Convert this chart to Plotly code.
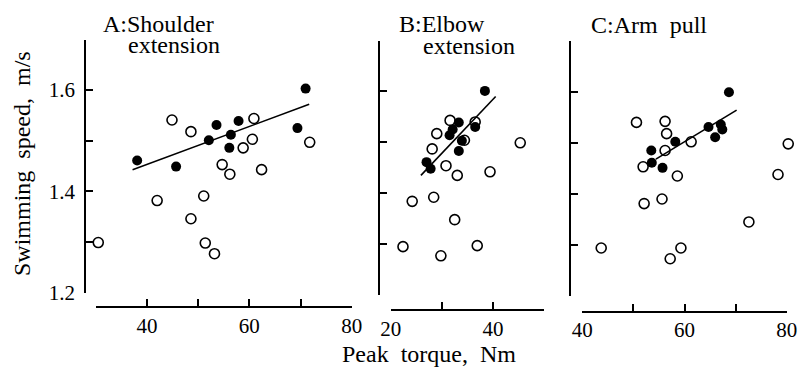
import plotly.graph_objects as go

W, H = 801, 376

# ---------------- data ----------------
# Panel A: Shoulder extension
a_fill_x = [38.1, 45.7, 52.1, 53.6, 57.9, 56.4, 56.1, 69.4, 71.0]
a_fill_y = [1.461, 1.449, 1.501, 1.531, 1.539, 1.512, 1.486, 1.525, 1.603]
a_open_x = [44.9, 48.6, 60.9, 60.6, 58.8, 54.7, 56.2, 62.4, 71.8, 42.0, 51.1, 48.6, 51.4, 53.2, 30.5]
a_open_y = [1.541, 1.518, 1.544, 1.503, 1.486, 1.453, 1.434, 1.443, 1.497, 1.382, 1.391, 1.346, 1.298, 1.277, 1.299]
a_line_x = [37.2, 71.7]
a_line_y = [1.443, 1.572]

# Panel B: Elbow extension
b_fill_x = [38.4, 33.3, 32.1, 31.5, 33.9, 33.3, 36.5, 27.0, 27.8]
b_fill_y = [1.601, 1.539, 1.525, 1.514, 1.503, 1.483, 1.530, 1.461, 1.448]
b_open_x = [31.6, 36.5, 29.0, 28.1, 34.4, 30.8, 33.0, 39.4, 45.3, 24.2, 28.4, 32.5, 22.4, 29.8, 36.9]
b_open_y = [1.543, 1.540, 1.517, 1.487, 1.504, 1.454, 1.435, 1.442, 1.499, 1.384, 1.392, 1.348, 1.295, 1.277, 1.297]
b_line_x = [25.9, 40.5]
b_line_y = [1.435, 1.590]

# Panel C: Arm pull
c_fill_x = [68.7, 67.1, 67.4, 64.7, 66.0, 58.2, 53.5, 53.6, 55.7]
c_fill_y = [1.599, 1.536, 1.526, 1.531, 1.511, 1.502, 1.485, 1.461, 1.451]
c_open_x = [50.6, 56.2, 56.5, 56.2, 61.3, 51.9, 58.6, 80.3, 78.3, 52.1, 55.6, 72.6, 43.7, 59.3, 57.2]
c_open_y = [1.540, 1.542, 1.518, 1.485, 1.502, 1.453, 1.435, 1.498, 1.438, 1.381, 1.390, 1.345, 1.294, 1.294, 1.273]
c_line_x = [54.4, 70.2]
c_line_y = [1.468, 1.564]

y_tickvals = [1.2, 1.3, 1.4, 1.5, 1.6, 1.7]
y_ticktext = ["1.2", "", "1.4", "", "1.6", ""]
a_xticks = [30, 40, 50, 60, 70, 80]
a_xtext = ["", "40", "", "60", "", "80"]
b_xticks = [20, 30, 40, 50]
b_xtext = ["20", "", "40", ""]
c_xticks = [40, 50, 60, 70, 80]
c_xtext = ["40", "", "60", "", "80"]

FONT = "Liberation Serif"

def px(v):
    return v / W

def py(v):
    return 1 - v / H

fig = go.Figure()

# (line axis, marker axis, y axis, ...). Panel C markers use a hidden twin x axis
# with the same scale but a slightly longer range, so the point just beyond
# 80 Nm is not hidden.
panels = [
    ("x", "x", "y", a_fill_x, a_fill_y, a_open_x, a_open_y, a_line_x, a_line_y),
    ("x2", "x2", "y2", b_fill_x, b_fill_y, b_open_x, b_open_y, b_line_x, b_line_y),
    ("x3", "x4", "y3", c_fill_x, c_fill_y, c_open_x, c_open_y, c_line_x, c_line_y),
]
for xl_, xm_, ya, fx, fy, ox, oy, lx, ly in panels:
    fig.add_trace(go.Scatter(x=lx, y=ly, mode="lines", xaxis=xl_, yaxis=ya,
                             line=dict(color="black", width=1.6), showlegend=False,
                             cliponaxis=False, hoverinfo="skip"))
    fig.add_trace(go.Scatter(x=ox, y=oy, mode="markers", xaxis=xm_, yaxis=ya,
                             marker=dict(symbol="circle-open", size=10, color="black",
                                         line=dict(width=1.6, color="black")),
                             showlegend=False, cliponaxis=False))
    fig.add_trace(go.Scatter(x=fx, y=fy, mode="markers", xaxis=xm_, yaxis=ya,
                             marker=dict(symbol="circle", size=10, color="black"),
                             showlegend=False, cliponaxis=False))

common_axis = dict(showgrid=False, zeroline=False, showline=True, linecolor="black",
                   linewidth=1.5, ticks="inside", ticklen=7, tickwidth=1.5,
                   tickcolor="black", anchor="free", tickmode="array", automargin=False,
                   tickfont=dict(family=FONT, size=21, color="black"))

# axis geometry (pixels)
geo = {
    "A": dict(yx=85.0, ybot=292.7, ytop=39.5, xl=95.7, xr=351.7, xy=307.0, xr_=[30, 80]),
    "B": dict(yx=379.3, ybot=295.0, ytop=40.5, xl=390.7, xr=544.3, xy=310.0, xr_=[20, 50]),
    "C": dict(yx=570.0, ybot=296.0, ytop=40.7, xl=582.3, xr=786.7, xy=311.5, xr_=[40, 80]),
}
xticks = {"A": (a_xticks, a_xtext), "B": (b_xticks, b_xtext), "C": (c_xticks, c_xtext)}
names = {"A": ("xaxis", "yaxis"), "B": ("xaxis2", "yaxis2"), "C": ("xaxis3", "yaxis3")}

layout_axes = {}
for k, g in geo.items():
    xn, yn = names[k]
    tv, tt = xticks[k]
    layout_axes[xn] = dict(common_axis, domain=[px(g["xl"]), px(g["xr"])],
                           position=py(g["xy"]), range=g["xr_"],
                           tickvals=tv, ticktext=tt)
    layout_axes[yn] = dict(common_axis, domain=[py(g["ybot"]), py(g["ytop"])],
                           position=px(g["yx"]), range=[1.2, 1.7],
                           tickvals=y_tickvals, ticktext=y_ticktext,
                           showticklabels=(k == "A"), ticklabelstandoff=5)

# hidden twin of panel C's x axis (same px per Nm), extended to 82 Nm
gc = geo["C"]
scale_c = (gc["xr"] - gc["xl"]) / (gc["xr_"][1] - gc["xr_"][0])
layout_axes["xaxis4"] = dict(visible=False, anchor="free", position=py(gc["xy"]),
                             domain=[px(gc["xl"]), px(gc["xl"] + scale_c * 42)],
                             range=[40, 82], showgrid=False, zeroline=False)

fig.update_layout(width=W, height=H, margin=dict(l=0, r=0, t=0, b=0, pad=0),
                  paper_bgcolor="white", plot_bgcolor="rgba(0,0,0,0)", hovermode=False,
                  font=dict(family=FONT, color="black"), **layout_axes)

def ann(text, x, y, size=24, xanchor="left", angle=0):
    fig.add_annotation(text=text, x=px(x), y=py(y), xref="paper", yref="paper",
                       xanchor=xanchor, yanchor="middle", showarrow=False,
                       textangle=angle, borderpad=0,
                       font=dict(family=FONT, size=size, color="black"))

ann("A:Shoulder", 102, 24)
ann("extension", 127, 45)
ann("B:Elbow", 398, 24)
ann("extension", 422, 46)
ann("C:Arm\u00a0 pull", 590, 25)
ann("Swimming\u00a0 speed,\u00a0 m/s", 22, 164, xanchor="center", angle=-90)
ann("Peak\u00a0 torque,\u00a0 Nm", 429, 354, xanchor="center")

fig.write_html("out.html", config={"displayModeBar": False},
               post_script="document.body.style.margin='0';")
